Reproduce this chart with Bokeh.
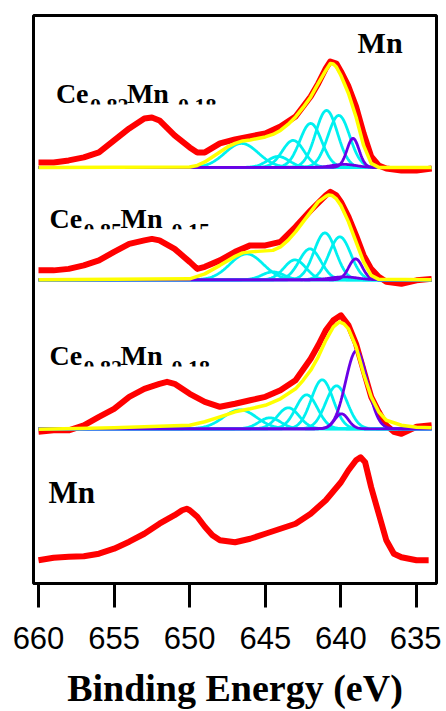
import numpy as np
from bokeh.plotting import figure
from bokeh.models import Range1d, FixedTicker
from bokeh.core.properties import value
from bokeh.embed import file_html
from bokeh.resources import INLINE

# ---------------- data ----------------
energy_ticks = [660, 655, 650, 645, 640, 635]

# vertical stacking offsets of the four spectra (arbitrary units)
offset_a = 433.0
offset_b = 320.5
offset_c = 171.5
offset_d = 40.0

# --- spectrum A : Ce0.82Mn0.18 (top) ---
raw_a_e = [660, 659, 658, 657, 656, 655, 654, 653, 652.5, 652, 651, 650, 649.5, 649, 648, 647,
           646, 645, 644, 643, 642, 641.5, 641, 640.7, 640.3, 640, 639.5, 639, 638.5, 638,
           637.5, 637, 636, 635, 634]
raw_a_i = [5, 5, 7, 10, 15, 27, 39, 49, 50, 47, 32, 20, 15, 15, 24, 28,
           31, 34, 41, 51, 71, 84, 99, 106, 104, 96, 81, 61, 34, 11,
           2, -1, -3, -3, -1]
env_a_e = [660, 650, 649.5, 649, 648.5, 648, 647.5, 647, 646.5, 646, 645.5, 645, 644.5, 644,
           643.5, 643, 642.5, 642, 641.5, 641, 640.7, 640.5, 640.3, 640, 639.5, 639, 638.5,
           638, 637.5, 634]
env_a_i = [0, 0.5, 2, 5.5, 10.5, 15.5, 20.5, 24, 26.5, 27.5, 29, 30.5, 33, 37,
           43, 50.5, 60, 70.5, 84, 97, 104, 103.5, 100.5, 92, 74, 50.5, 22,
           4, 0, 0]
cyan_a_center = [646.57, 644.15, 643.16, 642.0, 640.95, 640.14]
cyan_a_height = [24, 11, 27, 44, 57, 52]
cyan_a_sigma = [1.1, 0.72, 0.72, 0.72, 0.72, 0.72]
purple_a_center = [639.2, 639.8]
purple_a_height = [29, 3]
purple_a_sigma = [0.4, 0.8]

# --- spectrum B : Ce0.85Mn0.15 ---
raw_b_e = [660, 659, 658, 657, 656, 655, 654, 653, 652.5, 652, 651, 650, 649.5, 649, 648, 647,
           646, 645, 644, 643, 642, 641, 640.7, 640.3, 640, 639.5, 639, 638.5, 638, 637.5,
           637, 636, 635, 634]
raw_b_i = [9.5, 9.5, 11, 14.5, 19.5, 28, 36, 39.5, 41, 39.5, 31, 18, 11, 13, 19.5, 28,
           34.5, 34.5, 38, 53, 69.5, 84.5, 88, 84.5, 78, 63, 44.5, 24.5, 11, 3,
           -2, -4, -0.5, 1]
env_b_e = [660, 650, 649, 648, 647, 646.5, 646, 645.5, 645, 644.5, 644, 643.5, 643, 642.5,
           642, 641.5, 641, 640.8, 640.6, 640.3, 640, 639.5, 639, 638.5, 638, 637.5, 634]
env_b_i = [0, 1, 6, 14.5, 23.5, 27, 28, 28.5, 29, 29.5, 33, 39.5, 48, 58,
           68, 78, 83.5, 85, 84.5, 81, 74.5, 58, 38, 18, 4.5, 0.5, 0]
cyan_b_center = [646.24, 644.5, 643.04, 642.05, 641.06, 640.07]
cyan_b_height = [26, 8, 20, 31, 47, 43]
cyan_b_sigma = [1.1, 0.72, 0.72, 0.72, 0.72, 0.72]
purple_b_center = [639.03, 639.8]
purple_b_height = [21, 3]
purple_b_sigma = [0.45, 0.9]

# --- spectrum C : Ce0.82Mn0.18 (third) ---
raw_c_e = [660, 659, 658, 657, 656, 655, 654, 653, 652, 651.5, 651, 650, 649, 648, 647, 646,
           645, 644, 643, 642, 641.5, 641, 640.5, 640, 639.5, 639, 638.5, 638, 637.5, 637,
           636.5, 636, 635, 634]
raw_c_i = [-3, -1.5, -1.5, 3.5, 12, 20, 32, 40, 45, 47, 45, 35, 27, 22, 25, 28.5,
           32, 38.5, 48.5, 70, 83.5, 98.5, 108.5, 113.5, 103.5, 85, 58.5, 32, 17, 3.5,
           -3, -5, 2, 3.5]
env_c_e = [660, 655, 652, 650, 649, 648, 647, 646, 645, 644, 643, 642.5, 642, 641.5, 641,
           640.5, 640.1, 639.8, 639.5, 639, 638.5, 638, 637.5, 637, 636, 635, 634]
env_c_i = [-0.5, 1, 2.5, 3.5, 7, 12, 17, 20, 23.5, 30, 40, 48.5, 58.5, 72, 88.5,
           102, 107, 105, 100, 82, 55, 32, 17, 8.5, 3.5, 1.5, 1]
cyan_c_center = [646.68, 644.7, 643.48, 642.27, 641.24, 640.29]
cyan_c_height = [19, 11, 21, 34, 49, 43]
cyan_c_sigma = [1.1, 0.72, 0.72, 0.72, 0.72, 0.72]
purple_c_center = [638.97, 639.96]
purple_c_height = [78, 15]
purple_c_sigma = [0.72, 0.45]

# --- spectrum D : Mn (bottom) ---
raw_d_e = [660, 659, 658, 657, 656, 655, 654, 653, 652, 651, 650.5, 650.2, 650, 649.5, 649,
           648.5, 648, 647, 646, 645, 644, 643, 642, 641, 640, 639.5, 639, 638.7, 638.4,
           638, 637.5, 637, 636.5, 636, 635, 634.2]
raw_d_i = [0, 2.5, 3.5, 4, 6.5, 11.5, 18.5, 26.5, 36.5, 45, 50, 51.5, 50, 43.5, 33.5,
           25, 20, 18, 21.5, 26.5, 31.5, 36.5, 46.5, 60, 78, 90, 100, 103, 98,
           73, 46.5, 20, 6.5, 3, 0, 0]

# ---------------- styling / layout ----------------
RED = "#FF0000"
YELLOW = "#FFFF00"
CYAN = "#00F0F0"
PURPLE = "#6A00E6"
SERIF = "Liberation Serif"
SANS = "Liberation Sans"

x_start, x_end = 660.33, 633.68
y_start, y_end = 16.7, 585.0
frame_w, frame_h = 403, 568
px_per_ev = frame_w / (x_start - x_end)
px_per_unit = frame_h / (y_end - y_start)

p = figure(frame_width=frame_w, frame_height=frame_h,
           x_range=Range1d(x_start, x_end), y_range=Range1d(y_start, y_end),
           output_backend="svg", toolbar_location=None,
           min_border_left=33, min_border_right=5, min_border_top=15, min_border_bottom=0,
           background_fill_color="white", border_fill_color="white")
p.grid.visible = False
p.yaxis.visible = False
p.outline_line_color = "black"
p.outline_line_width = 3
p.outline_line_alpha = 1.0

ax = p.xaxis[0]
ax.ticker = FixedTicker(ticks=energy_ticks, minor_ticks=[])
ax.axis_line_width = 3
ax.major_tick_line_width = 3
ax.major_tick_out = 24
ax.major_tick_in = 0
ax.minor_tick_line_color = None
ax.major_label_text_font = SANS
ax.major_label_text_font_size = "31px"
ax.major_label_text_color = "black"
ax.major_label_standoff = 19
ax.axis_label = "Binding Energy (eV)"
ax.axis_label_text_font = SERIF
ax.axis_label_text_font_style = "bold"
ax.axis_label_text_font_size = "38px"
ax.axis_label_text_color = "black"
ax.axis_label_standoff = 15

# ---------------- labels (drawn first, then masked at baseline) ----------------
def dx(px):
    return px / px_per_ev

def dy(px):
    return px / px_per_unit

BASE_FIX = 0.37  # the renderer sets alphabetic text this fraction of an em lower


def label(x, y, txt, size, xo=0, yo=0):
    p.text(x=[x], y=[y + dy(BASE_FIX * size)], text=[txt], x_offset=xo, y_offset=yo,
           text_font=value(SERIF), text_font_style="bold", text_font_size=f"{size}px",
           text_color="black", text_align="left", text_baseline="alphabetic")


sample_labels = [
    # (start energy, baseline y, subscript 1, subscript 2)
    (658.85, offset_a + dy(167 - 103.5), "0.82", "0.18"),
    (659.27, offset_b + dy(279.5 - 228.3), "0.85", "0.15"),
    (659.27, offset_c + dy(428.5 - 365.7), "0.82", "0.18"),
]
for (e0, yb, s1, s2) in sample_labels:
    label(e0, yb, "Ce", 28)
    label(e0, yb, s1, 22, xo=34, yo=10)
    label(e0, yb, "Mn", 28, xo=71)
    label(e0, yb, s2, 22, xo=122, yo=10)
    # the original figure clips these labels at their baseline
    p.quad(left=[e0 + dx(2)], right=[e0 - dx(170)], top=[yb - dy(0.5)], bottom=[yb - dy(16)],
           fill_color="white", line_color=None)

label(638.9, offset_a + dy(167 - 53.3), "Mn", 30)
label(659.34, offset_d + dy(560 - 503.3), "Mn", 31)

# ---------------- spectra ----------------
grid = np.arange(634.0, 660.0001, 0.05)


def peak(c, h, s):
    return h * np.exp(-0.5 * ((grid - c) / s) ** 2)


def draw_fitted(off, re, ri, ee, ei, cc, ch, cs, pc, ph, ps):
    p.line(re, [off + v for v in ri], line_color=RED, line_width=6, line_join="round")
    for c, h, s in zip(cc, ch, cs):
        p.line(grid, off + peak(c, h, s), line_color=CYAN, line_width=2.8)
    for c, h, s in zip(pc, ph, ps):
        p.line(grid, off + peak(c, h, s), line_color=PURPLE, line_width=2.8)
    p.line(ee, [off + v for v in ei], line_color=YELLOW, line_width=3.5, line_join="round")


draw_fitted(offset_a, raw_a_e, raw_a_i, env_a_e, env_a_i,
            cyan_a_center, cyan_a_height, cyan_a_sigma,
            purple_a_center, purple_a_height, purple_a_sigma)
draw_fitted(offset_b, raw_b_e, raw_b_i, env_b_e, env_b_i,
            cyan_b_center, cyan_b_height, cyan_b_sigma,
            purple_b_center, purple_b_height, purple_b_sigma)
draw_fitted(offset_c, raw_c_e, raw_c_i, env_c_e, env_c_i,
            cyan_c_center, cyan_c_height, cyan_c_sigma,
            purple_c_center, purple_c_height, purple_c_sigma)
p.line(raw_d_e, [offset_d + v for v in raw_d_i], line_color=RED, line_width=6, line_join="round")

open("out.html", "w").write(file_html(p, INLINE))
